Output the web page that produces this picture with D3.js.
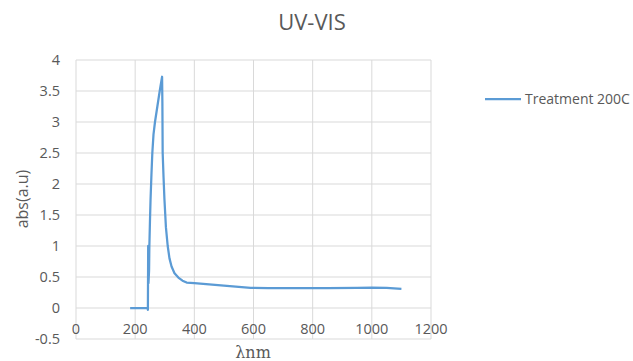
<!DOCTYPE html>
<html>
<head>
<meta charset="utf-8">
<script src="https://cdn.jsdelivr.net/npm/d3@7"></script>
<style>
  body { margin: 0; background: #fff; }
  svg { font-family: "Open Sans", sans-serif; }
</style>
</head>
<body>
<svg width="633" height="361"></svg>
<script>
// wavelength (nm) and absorbance
var wavelength = [183, 242, 243, 244, 245, 247, 248, 250, 252, 255, 258, 262, 267, 275, 283, 291,
  292, 293, 296, 299, 304, 310, 316, 323, 333, 346, 360, 374, 400, 450, 500, 550, 590,
  650, 750, 850, 950, 1000, 1050, 1100];
var absorbance = [0, 0, -0.03, 1.0, 0.4, 0.6, 1.0, 1.4, 1.75, 2.15, 2.5, 2.8, 3.0, 3.25, 3.5, 3.73,
  3.3, 2.5, 2.1, 1.75, 1.3, 1.0, 0.8, 0.67, 0.56, 0.49, 0.44, 0.41, 0.40, 0.38, 0.36, 0.34, 0.325,
  0.32, 0.32, 0.32, 0.325, 0.33, 0.325, 0.31];
var xTicks = [0, 200, 400, 600, 800, 1000, 1200];
var yTicks = [-0.5, 0, 0.5, 1, 1.5, 2, 2.5, 3, 3.5, 4];
var seriesName = "Treatment 200C";

var svg = d3.select("svg");
var textColor = "#595959", gridColor = "#d9d9d9", lineColor = "#5b9bd5";

var x = d3.scaleLinear().domain([0, 1200]).range([76, 431]);
var y = d3.scaleLinear().domain([-0.5, 4]).range([339, 60]);

// grid
svg.append("g").selectAll("line").data(yTicks).enter().append("line")
    .attr("x1", x(0)).attr("x2", x(1200))
    .attr("y1", function(d) { return y(d); }).attr("y2", function(d) { return y(d); })
    .attr("stroke", gridColor).attr("stroke-width", 1);
svg.append("g").selectAll("line").data(xTicks).enter().append("line")
    .attr("y1", y(4)).attr("y2", y(-0.5))
    .attr("x1", function(d) { return x(d); }).attr("x2", function(d) { return x(d); })
    .attr("stroke", gridColor).attr("stroke-width", 1);

// y tick labels
svg.append("g").selectAll("text").data(yTicks).enter().append("text")
    .attr("x", 60).attr("y", function(d) { return y(d); })
    .attr("dy", "0.35em").attr("text-anchor", "end")
    .attr("font-size", 14.5).attr("fill", textColor)
    .text(function(d) { return d; });

// x tick labels, under the axis at 0
svg.append("g").selectAll("text").data(xTicks).enter().append("text")
    .attr("x", function(d) { return x(d); }).attr("y", 329)
    .attr("dy", "0.35em").attr("text-anchor", "middle")
    .attr("font-size", 14.5).attr("fill", textColor)
    .text(function(d) { return d; });

// data line
var pts = d3.zip(wavelength, absorbance);
svg.append("path")
    .datum(pts)
    .attr("fill", "none")
    .attr("stroke", lineColor)
    .attr("stroke-width", 2.25)
    .attr("stroke-linejoin", "round")
    .attr("d", d3.line()
      .x(function(d) { return x(d[0]); })
      .y(function(d) { return y(d[1]); }));

// title and axis titles
svg.append("text")
    .attr("x", 312).attr("y", 22).attr("dy", "0.35em")
    .attr("text-anchor", "middle").attr("font-size", 22).attr("fill", textColor)
    .text("UV-VIS");

svg.append("text")
    .attr("transform", "translate(22,199) rotate(-90)")
    .attr("dy", "0.35em")
    .attr("text-anchor", "middle").attr("font-size", 16).attr("fill", textColor)
    .text("abs(a.u)");

svg.append("text")
    .attr("x", 253).attr("y", 352).attr("dy", "0.35em")
    .attr("text-anchor", "middle").attr("font-size", 16).attr("fill", textColor)
    .attr("font-family", "'DejaVu Serif', serif")
    .text("λnm");

// legend
var lg = svg.append("g").attr("transform", "translate(485,99)");
lg.append("line").attr("x1", 0).attr("x2", 36).attr("y1", 0).attr("y2", 0)
    .attr("stroke", lineColor).attr("stroke-width", 2.25);
lg.append("text").attr("x", 40).attr("dy", "0.35em")
    .attr("font-size", 14).attr("fill", textColor)
    .text(seriesName);
</script>
</body>
</html>
